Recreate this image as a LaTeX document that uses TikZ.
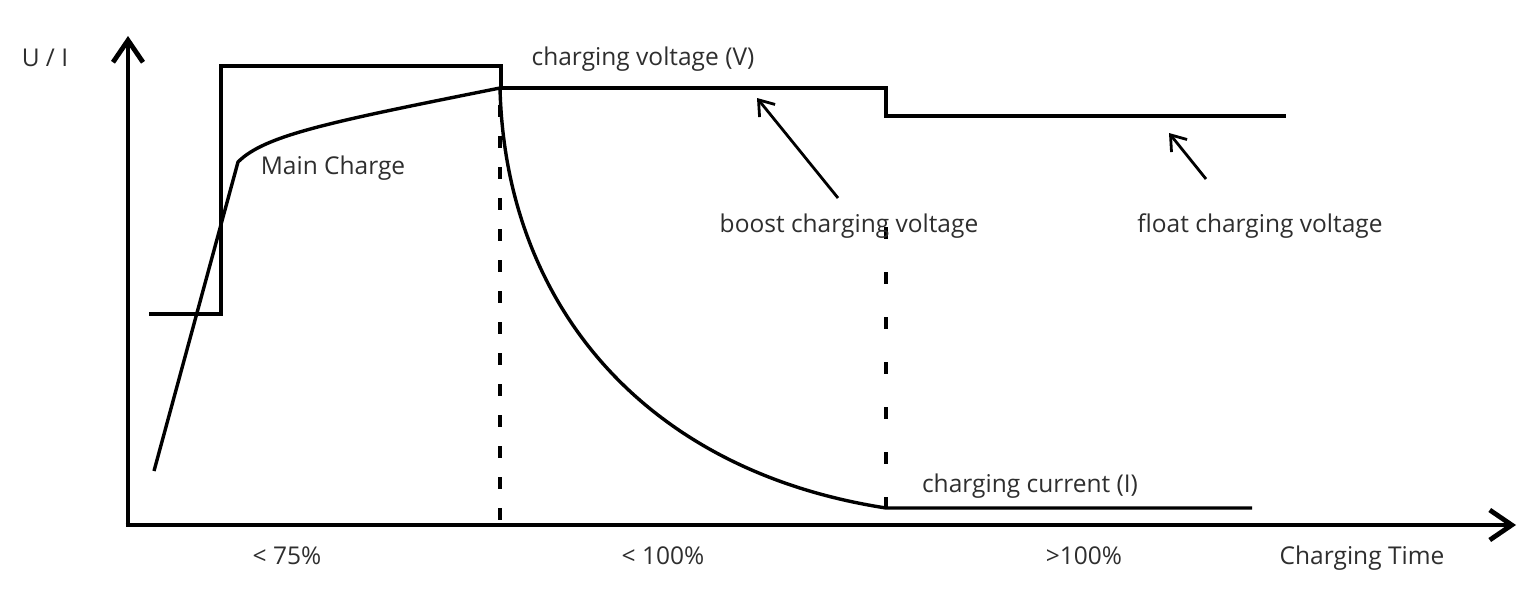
\documentclass[tikz,border=0pt]{standalone}
\usepackage{fontspec}
\setmainfont{Open Sans}
\usetikzlibrary{arrows.meta}
\begin{document}
\begin{tikzpicture}[x=1pt,y=-1pt,
  axis/.style={line width=4.8pt,-{Straight Barb[length=22pt,width=30pt,line width=4.8pt]}},
  volt/.style={line width=3.2pt,line join=miter},
  curr/.style={line width=3.4pt},
  guide/.style={line width=4.4pt,dash pattern=on 12pt off 19pt},
  guideb/.style={line width=4.4pt,dash pattern=on 12pt off 33pt},
  pointer/.style={line width=2.8pt,-{Straight Barb[length=14pt,width=20pt,line width=2.8pt]}},
  lbl/.style={font=\fontsize{24.5pt}{28pt}\selectfont,text=black!82,inner sep=0pt,yshift=-3pt}]
\useasboundingbox (0,0) rectangle (1539,597);
% axes
\coordinate (O) at (128,525);
\coordinate (ytip) at (128,36);
\coordinate (xtip) at (1516,525);
\draw[axis] (O) -- (ytip);
\draw[axis] ([xshift=-2.4pt]O) -- (xtip);
% voltage
\draw[volt] (149,314) -- (221,314) -- (221,66) -- (501,66) -- (501,88) -- (886,88) -- (886,116) -- (1286,116);
% current
\coordinate (c0) at (154,471);
\coordinate (c1) at (238,162);
\coordinate (c2) at (500,88);
\coordinate (c3) at (886,508);
\coordinate (c4) at (1252,508);
\draw[curr,line join=round] (c0) -- (c1) .. controls (265,135) and (330,122) .. (c2)
  .. controls (505,300) and (640,470) .. (c3) -- (c4);
% dashed guides
\coordinate (g1t) at (500,105);
\coordinate (g1b) at (500,525);
\coordinate (g2t) at (886,227);
\coordinate (g2b) at (886,525);
\draw[guide] (g1t) -- (g1b);
\draw[guideb] (g2t) -- (g2b);
% labels
\node[lbl] (ui) at (45,55) {U / I};
\node[lbl] (cv) at (643,56) {charging voltage (V)};
\node[lbl] (mc) at (333,165) {Main Charge};
\node[lbl] (bcv) at (849,223) {boost charging voltage};
\node[lbl] (fcv) at (1260,223) {float charging voltage};
\node[lbl] (cc) at (1030,483) {charging current (I)};
\node[lbl] (p75) at (287,553) {< 75\%};
\node[lbl] (p100) at (663,553) {< 100\%};
\node[lbl] (p100b) at (1084,553) {>100\%};
\node[lbl] (ct) at (1362,555) {Charging Time};
% pointers
\coordinate (bt) at (838,198);
\coordinate (bh) at (757,98);
\coordinate (ft) at (1206,179);
\coordinate (fh) at (1169,133);
\draw[pointer] (bt) -- (bh);
\draw[pointer] (ft) -- (fh);
\end{tikzpicture}
\end{document}
